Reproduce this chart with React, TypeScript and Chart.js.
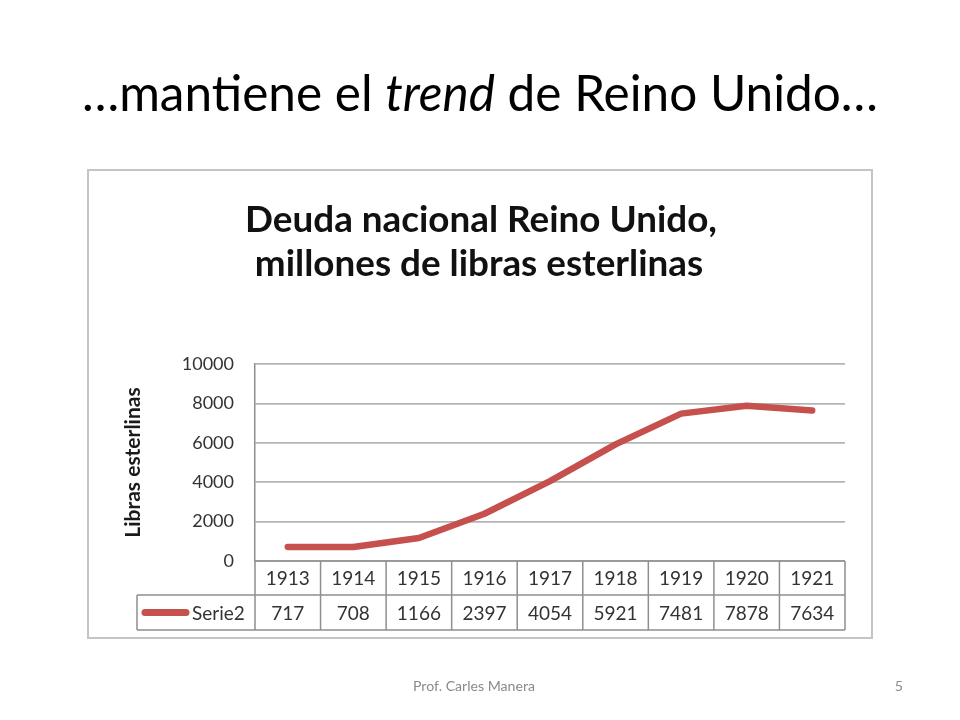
import React, { useEffect, useRef } from "react";
import { Chart, registerables } from "chart.js";
Chart.register(...registerables);

const years = ["1913", "1914", "1915", "1916", "1917", "1918", "1919", "1920", "1921"];
const serie2 = [717, 708, 1166, 2397, 4054, 5921, 7481, 7878, 7634];
const seriesName = "Serie2";
const yMin = 0;
const yMax = 10000;
const yStep = 2000;
const slideTitleParts = [
  { text: "…mantiene el ", italic: false },
  { text: "trend", italic: true },
  { text: " de Reino Unido…", italic: false },
];
const chartTitleLines = ["Deuda nacional Reino Unido,", "millones de libras esterlinas"];
const yAxisTitle = "Libras esterlinas";
const footerText = "Prof. Carles Manera";
const pageNumber = "5";

const FAMILY = "Lato, 'Open Sans', sans-serif";
const LINE_COLOR = "rgb(197, 80, 77)";
const TEXT_COLOR = "#333333";

function fitSize(ctx: CanvasRenderingContext2D, parts: { text: string; italic: boolean }[], weight: string, target: number) {
  let w = 0;
  for (const p of parts) {
    ctx.font = `${p.italic ? "italic " : ""}${weight} 100px ${FAMILY}`;
    w += ctx.measureText(p.text).width;
  }
  return (100 * target) / w;
}

function drawParts(ctx: CanvasRenderingContext2D, parts: { text: string; italic: boolean }[], weight: string, size: number, cx: number, cy: number, color: string) {
  let total = 0;
  const widths: number[] = [];
  for (const p of parts) {
    ctx.font = `${p.italic ? "italic " : ""}${weight} ${size}px ${FAMILY}`;
    const w = ctx.measureText(p.text).width;
    widths.push(w);
    total += w;
  }
  let x = cx - total / 2;
  ctx.fillStyle = color;
  ctx.textAlign = "left";
  ctx.textBaseline = "middle";
  parts.forEach((p, i) => {
    ctx.font = `${p.italic ? "italic " : ""}${weight} ${size}px ${FAMILY}`;
    ctx.fillText(p.text, x, cy);
    x += widths[i];
  });
}

const decor = {
  id: "decor",
  beforeDraw(chart: any) {
    const ctx: CanvasRenderingContext2D = chart.ctx;
    ctx.save();
    ctx.fillStyle = "#ffffff";
    ctx.fillRect(0, 0, chart.width, chart.height);

    // slide title
    const tSize = fitSize(ctx, slideTitleParts, "normal", 796);
    drawParts(ctx, slideTitleParts, "normal", tSize, 480, 95, "#000000");

    // chart frame
    ctx.strokeStyle = "#c4c4c4";
    ctx.lineWidth = 2;
    ctx.strokeRect(88, 170, 784, 468);

    // chart title
    const s1 = fitSize(ctx, [{ text: chartTitleLines[0], italic: false }], "bold", 472);
    drawParts(ctx, [{ text: chartTitleLines[0], italic: false }], "bold", s1, 481, 220, "#111111");
    drawParts(ctx, [{ text: chartTitleLines[1], italic: false }], "bold", s1, 479, 264, "#111111");

    // footer
    const fs = fitSize(ctx, [{ text: footerText, italic: false }], "normal", 122);
    drawParts(ctx, [{ text: footerText, italic: false }], "normal", fs, 474, 686, "#8a8a8a");
    ctx.font = `normal ${fs}px ${FAMILY}`;
    ctx.textAlign = "right";
    ctx.fillText(pageNumber, 903, 686);
    ctx.restore();
  },
  afterDraw(chart: any) {
    const ctx: CanvasRenderingContext2D = chart.ctx;
    const xs = chart.scales.x;
    const area = chart.chartArea;
    const n = years.length;
    const colW = (area.right - area.left) / n;
    const top = area.bottom;
    const mid = top + 34;
    const bot = mid + 35;
    const legLeft = 137;
    ctx.save();
    ctx.strokeStyle = "#8f8f8f";
    ctx.lineWidth = 1.5;
    ctx.beginPath();
    ctx.moveTo(area.left, top);
    ctx.lineTo(area.right, top);
    ctx.moveTo(legLeft, mid);
    ctx.lineTo(area.right, mid);
    ctx.moveTo(legLeft, bot);
    ctx.lineTo(area.right, bot);
    ctx.moveTo(legLeft, mid);
    ctx.lineTo(legLeft, bot);
    for (let i = 0; i <= n; i++) {
      const x = area.left + i * colW;
      ctx.moveTo(x, top);
      ctx.lineTo(x, bot);
    }
    ctx.stroke();

    ctx.fillStyle = TEXT_COLOR;
    ctx.font = `normal 19px ${FAMILY}`;
    ctx.textAlign = "center";
    ctx.textBaseline = "middle";
    years.forEach((y, i) => {
      const x = xs.getPixelForValue(i);
      ctx.fillText(y, x, (top + mid) / 2 + 1);
      ctx.fillText(String(serie2[i]), x, (mid + bot) / 2 + 1);
    });
    // legend key
    ctx.strokeStyle = LINE_COLOR;
    ctx.lineWidth = 7;
    ctx.lineCap = "round";
    ctx.beginPath();
    ctx.moveTo(145, (mid + bot) / 2);
    ctx.lineTo(186, (mid + bot) / 2);
    ctx.stroke();
    ctx.textAlign = "left";
    ctx.fillText(seriesName, 192, (mid + bot) / 2 + 1);
    ctx.restore();
  },
};

export default function App() {
  const ref = useRef<HTMLCanvasElement>(null);
  useEffect(() => {
    if (!ref.current) return;
    const chart = new Chart(ref.current, {
      type: "line",
      data: {
        labels: years,
        datasets: [
          {
            label: seriesName,
            data: serie2,
            borderColor: LINE_COLOR,
            borderWidth: 6.5,
            borderCapStyle: "round",
            borderJoinStyle: "round",
            pointRadius: 0,
            tension: 0,
            fill: false,
          },
        ],
      },
      options: {
        responsive: false,
        animation: false,
        layout: { padding: { left: 117, top: 364, right: 115, bottom: 159 } },
        plugins: { legend: { display: false }, title: { display: false }, tooltip: { enabled: false } },
        scales: {
          x: { display: false, offset: true },
          y: {
            min: yMin,
            max: yMax,
            ticks: {
              stepSize: yStep,
              padding: 21,
              color: TEXT_COLOR,
              font: { family: FAMILY, size: 18 },
              callback: (v: any) => String(v),
            },
            grid: { color: "#b4b4b4", lineWidth: 1.8, drawTicks: false },
            border: { display: true, color: "#8f8f8f", width: 1.5 },
            title: {
              display: true,
              text: yAxisTitle,
              color: "#1a1a1a",
              font: { family: FAMILY, size: 21, weight: "bold" },
            },
            afterFit: (scale: any) => {
              scale.width = 138;
            },
          },
        },
      },
      plugins: [decor],
    });
    return () => chart.destroy();
  }, []);
  return (
    <div style={{ position: "absolute", left: 0, top: 0, width: 960, height: 720 }}>
      <canvas ref={ref} width={960} height={720} />
    </div>
  );
}
